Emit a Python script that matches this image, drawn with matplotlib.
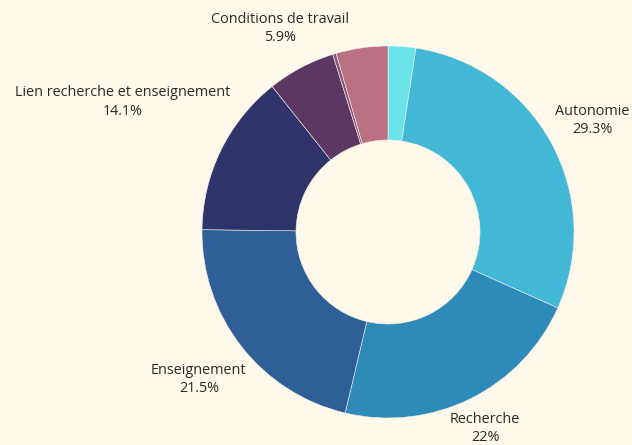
import matplotlib
matplotlib.use("Agg")
import matplotlib.pyplot as plt
import numpy as np

labels = ["", "Autonomie", "Recherche", "Enseignement",
          "Lien recherche et enseignement", "Conditions de travail", "", ""]
values = [2.4, 29.3, 22.0, 21.5, 14.1, 5.9, 0.3, 4.5]
pct_text = ["", "29.3%", "22%", "21.5%", "14.1%", "5.9%", "", ""]
colors = ["#6be4e9", "#42b7d6", "#2d8ab9", "#2e5f97", "#31346a",
          "#5d3764", "#8a5a80", "#b97183"]
label_dist = [0, 1.25, 1.18, 1.29, 1.59, 1.24, 0, 0]

bg = "#fef9eb"
W, H = 632, 445
fig = plt.figure(figsize=(W / 100, H / 100), dpi=100, facecolor=bg)
ax = fig.add_axes([0, 0, 1, 1])
ax.set_facecolor(bg)

cx, cy, R = 388, H - 232, 186
wedges, _ = ax.pie(values, colors=colors, startangle=90, counterclock=False,
                   center=(cx, cy), radius=R, frame=True,
                   wedgeprops=dict(width=R - 92, edgecolor="#f4efe6", linewidth=0.4))
ax.set_xlim(0, W)
ax.set_ylim(0, H)
ax.set_aspect("equal")
ax.axis("off")

total = sum(values)
cum = 0
for v, lab, pt, d in zip(values, labels, pct_text, label_dist):
    mid = (cum + v / 2) / total * 2 * np.pi
    cum += v
    if not lab:
        continue
    x = cx + d * R * np.sin(mid)
    y = cy + d * R * np.cos(mid)
    ax.text(x, y, lab + "\n" + pt, ha="center", va="center",
            fontsize=10.4, family=["Open Sans", "DejaVu Sans"], color="#2a2a2a",
            linespacing=1.3)

fig.savefig("out.png", dpi=100, facecolor=bg)
